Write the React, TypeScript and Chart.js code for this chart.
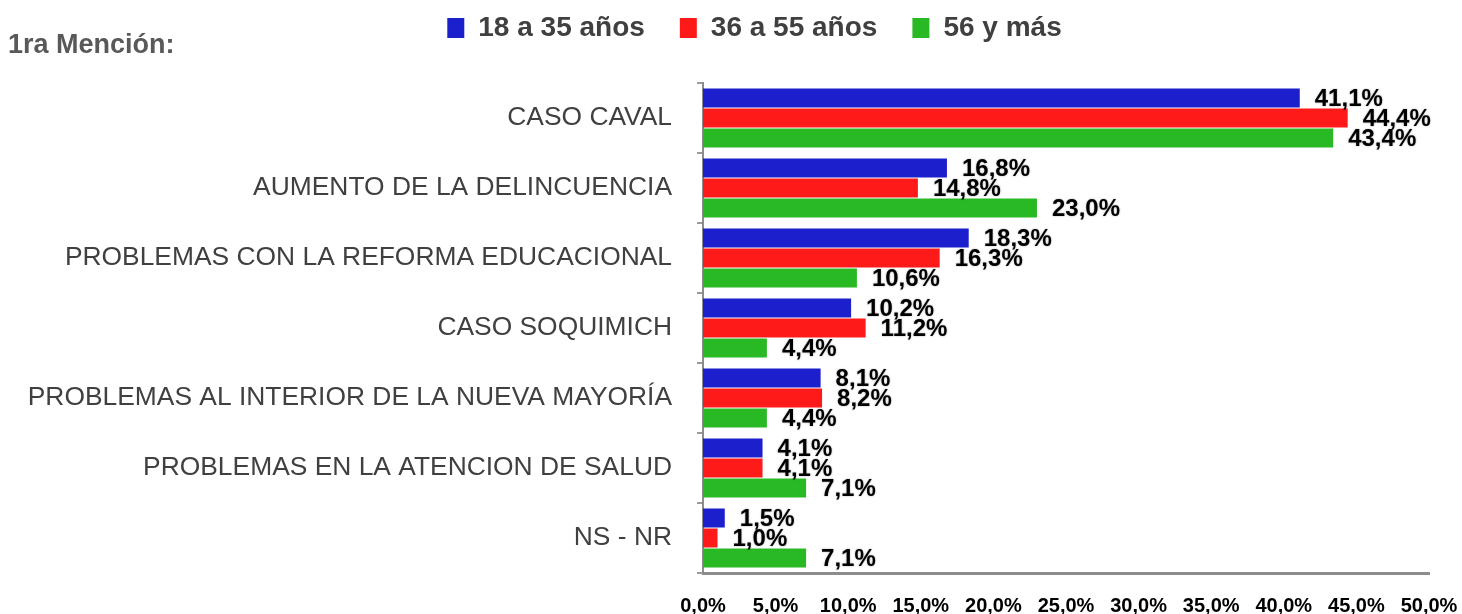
import React, { useEffect, useRef } from 'react';
import { Chart, registerables } from 'chart.js';

Chart.register(...registerables);

const categories = [
  'CASO CAVAL',
  'AUMENTO DE LA DELINCUENCIA',
  'PROBLEMAS CON LA REFORMA EDUCACIONAL',
  'CASO SOQUIMICH',
  'PROBLEMAS AL INTERIOR DE LA NUEVA MAYORÍA',
  'PROBLEMAS EN LA ATENCION DE SALUD',
  'NS - NR',
];
const seriesNames = ['18 a 35 años', '36 a 55 años', '56 y más'];
const young = [41.1, 16.8, 18.3, 10.2, 8.1, 4.1, 1.5];
const middle = [44.4, 14.8, 16.3, 11.2, 8.2, 4.1, 1.0];
const senior = [43.4, 23.0, 10.6, 4.4, 4.4, 7.1, 7.1];
const seriesColors = ['#1c1fcc', '#ff1a1a', '#29b924'];
const axisMin = 0;
const axisMax = 50;
const axisStep = 5;
const subtitle = '1ra Mención:';

const FONT = "'Liberation Sans', Arial, sans-serif";
const fmt = (v: number) => v.toFixed(1).replace('.', ',') + '%';

const layoutPlugin = {
  id: 'legendHeightFix',
  beforeLayout(chart: any) {
    const lg = chart.legend;
    if (lg && !lg._patched) {
      const orig = lg.fit.bind(lg);
      lg.fit = function () {
        orig();
        this.height = 83;
      };
      lg._patched = true;
    }
  },
  afterLayout(chart: any) {
    const lg = chart.legend;
    if (lg) {
      lg.top = -21;
      lg.left = 47;
      lg.right = 1462;
      lg.width = lg.right - lg.left;
    }
  },
};

const labelsPlugin = {
  id: 'barValueLabels',
  afterDatasetsDraw(chart: any) {
    const ctx = chart.ctx;
    ctx.save();
    ctx.font = `bold 24px ${FONT}`;
    ctx.fillStyle = '#000';
    ctx.textAlign = 'left';
    ctx.textBaseline = 'middle';
    ctx.shadowColor = 'rgba(0,0,0,0.35)';
    ctx.shadowBlur = 2;
    chart.data.datasets.forEach((ds: any, i: number) => {
      const meta = chart.getDatasetMeta(i);
      meta.data.forEach((el: any, j: number) => {
        ctx.fillText(fmt(ds.data[j]), el.x + 15, el.y + 1);
      });
    });
    ctx.restore();
  },
  afterDraw(chart: any) {
    const ctx = chart.ctx;
    ctx.save();
    ctx.font = `bold 27px ${FONT}`;
    ctx.fillStyle = '#595959';
    ctx.textAlign = 'left';
    ctx.textBaseline = 'middle';
    ctx.fillText(subtitle, 8, 46);
    ctx.restore();
  },
};

export default function App() {
  const ref = useRef<HTMLCanvasElement | null>(null);

  useEffect(() => {
    if (!ref.current) return;
    const series = [young, middle, senior];
    const chart = new Chart(ref.current, {
      type: 'bar',
      data: {
        labels: categories,
        datasets: series.map((d, i) => ({
          label: seriesNames[i],
          data: d,
          backgroundColor: seriesColors[i],
          borderWidth: 0,
          categoryPercentage: 0.857,
          barPercentage: 0.95,
        })),
      },
      options: {
        indexAxis: 'y',
        animation: false,
        responsive: true,
        maintainAspectRatio: false,
        layout: { padding: { top: 0, left: 0, right: 33, bottom: 0 } },
        plugins: {
          tooltip: { enabled: false },
          legend: {
            display: true,
            position: 'top',
            labels: {
              boxWidth: 17,
              boxHeight: 20,
              padding: 35,
              color: '#404040',
              font: { family: FONT, size: 28, weight: 'bold' },
            },
          },
        },
        scales: {
          x: {
            min: axisMin,
            max: axisMax,
            ticks: {
              stepSize: axisStep,
              color: '#000',
              padding: 21,
              maxRotation: 0,
              font: { family: FONT, size: 20, weight: 'bold' },
              callback: (v: any) => fmt(Number(v)),
            },
            grid: { display: false, drawTicks: false },
            border: { display: true, color: '#8c8c8c', width: 3 },
            afterFit: (s: any) => {
              s.height = 41;
              s.paddingLeft = 0;
              s.paddingRight = 0;
            },
          },
          y: {
            ticks: {
              color: '#404040',
              padding: 25,
              font: { family: FONT, size: 26.4 },
            },
            grid: {
              display: true,
              drawOnChartArea: false,
              drawTicks: true,
              tickLength: 6,
              color: '#9a9a9a',
              lineWidth: 2,
              offset: true,
            },
            border: { display: true, color: '#8c8c8c', width: 2 },
            afterFit: (s: any) => {
              s.width = 703;
            },
          },
        },
      },
      plugins: [layoutPlugin, labelsPlugin],
    } as any);
    return () => chart.destroy();
  }, []);

  return (
    <div style={{ position: 'fixed', left: 0, top: 0, width: 1462, height: 614 }}>
      <canvas ref={ref} />
    </div>
  );
}
